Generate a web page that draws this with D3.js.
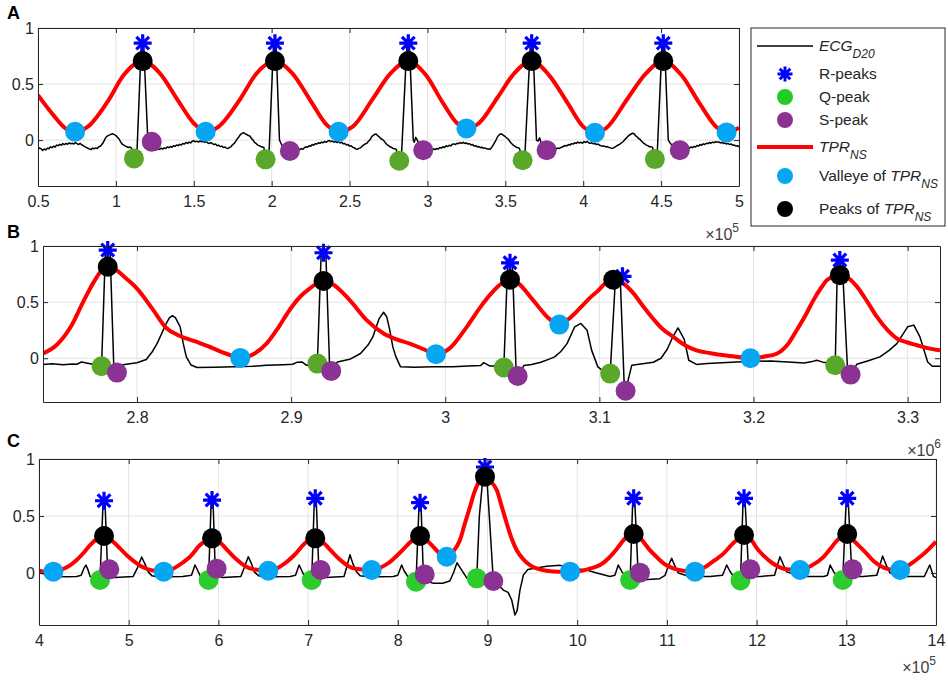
<!DOCTYPE html>
<html>
<head>
<meta charset="utf-8">
<script src="https://cdn.jsdelivr.net/npm/d3@7"></script>
<style>
body { margin: 0; background: #fff; }
text { font-family: "Liberation Sans", Arial, Helvetica, sans-serif; fill: #262626; }
</style>
</head>
<body>
<div id="chart"></div>
<script>
// ---------- data (x in axis units shown on ticks, y in normalised amplitude) ----------
// panel A  (x * 1e5)
var ecgA = [[0.50,-0.083],[0.51,-0.07],[0.52,-0.078],[0.53,-0.092],[0.54,-0.08],[0.55,-0.088],[0.56,-0.072],[0.57,-0.078],[0.58,-0.06],[0.59,-0.068],[0.60,-0.055],[0.61,-0.062],[0.62,-0.045],[0.63,-0.05],[0.64,-0.038],[0.65,-0.046],[0.66,-0.032],[0.67,-0.04],[0.68,-0.03],[0.69,-0.038],[0.70,-0.025],[0.71,-0.034],[0.72,-0.028],[0.73,-0.036],[0.74,-0.022],[0.75,-0.032],[0.76,-0.04],[0.77,-0.03],[0.78,-0.042],[0.79,-0.05],[0.80,-0.058],[0.81,-0.066],[0.82,-0.072],[0.83,-0.08],[0.84,-0.085],[0.85,-0.072],[0.86,-0.078],[0.87,-0.07],[0.88,-0.076],[0.89,-0.06],[0.90,-0.055],[0.91,-0.04],[0.92,-0.02],[0.93,0.01],[0.94,0.03],[0.95,0.04],[0.96,0.046],[0.97,0.052],[0.98,0.056],[0.99,0.048],[1.00,0.04],[1.01,0.025],[1.02,0.01],[1.03,-0.015],[1.04,-0.035],[1.05,-0.045],[1.06,-0.052],[1.07,-0.06],[1.08,-0.066],[1.09,-0.062],[1.10,-0.072],
  [1.116,-0.164],[1.135,-0.12],[1.163,0.86],[1.178,0.86],[1.205,0.0],[1.22,-0.02],[1.235,-0.05],
  [1.24,-0.06],[1.25,-0.08],[1.26,-0.088],[1.27,-0.076],[1.28,-0.084],[1.29,-0.072],[1.30,-0.08],[1.31,-0.07],[1.32,-0.075],[1.33,-0.062],[1.34,-0.068],[1.35,-0.058],[1.36,-0.064],[1.37,-0.05],[1.38,-0.056],[1.39,-0.044],[1.40,-0.05],[1.41,-0.038],[1.42,-0.044],[1.43,-0.03],[1.44,-0.036],[1.45,-0.022],[1.46,-0.03],[1.47,-0.018],[1.48,-0.026],[1.49,-0.01],[1.50,-0.006],[1.51,-0.016],[1.52,-0.01],[1.53,-0.018],[1.54,-0.008],[1.55,-0.016],[1.56,-0.012],[1.57,-0.02],[1.58,-0.014],[1.59,-0.026],[1.60,-0.03],[1.61,-0.022],[1.62,-0.032],[1.63,-0.04],[1.64,-0.036],[1.65,-0.05],[1.66,-0.046],[1.67,-0.058],[1.68,-0.054],[1.69,-0.066],[1.70,-0.062],[1.71,-0.072],[1.72,-0.075],[1.73,-0.066],[1.74,-0.058],[1.75,-0.04],[1.76,-0.03],[1.77,-0.01],[1.78,0.012],[1.79,0.03],[1.80,0.05],[1.81,0.06],[1.82,0.066],[1.83,0.055],[1.84,0.05],[1.85,0.04],[1.86,0.036],[1.87,0.015],[1.88,0.0],[1.89,-0.02],[1.90,-0.03],[1.91,-0.045],[1.92,-0.05],[1.93,-0.058],[1.94,-0.062],[1.95,-0.066],
  [1.961,-0.172],[1.983,-0.12],[2.012,0.86],[2.028,0.86],[2.05,0.0],[2.07,-0.06],[2.09,-0.07],
  [2.117,-0.09],[2.13,-0.085],[2.14,-0.092],[2.15,-0.08],[2.16,-0.088],[2.17,-0.078],[2.18,-0.086],[2.19,-0.076],[2.20,-0.083],[2.21,-0.068],[2.22,-0.06],[2.23,-0.065],[2.24,-0.05],[2.25,-0.055],[2.26,-0.04],[2.27,-0.046],[2.28,-0.032],[2.29,-0.036],[2.30,-0.024],[2.31,-0.03],[2.32,-0.018],[2.33,-0.024],[2.34,-0.012],[2.35,-0.02],[2.36,-0.01],[2.37,-0.004],[2.38,-0.014],[2.39,-0.008],[2.40,-0.02],[2.41,-0.012],[2.42,-0.022],[2.43,-0.015],[2.44,-0.026],[2.45,-0.02],[2.46,-0.034],[2.47,-0.03],[2.48,-0.044],[2.49,-0.04],[2.50,-0.054],[2.51,-0.05],[2.52,-0.064],[2.53,-0.068],[2.54,-0.08],[2.55,-0.083],[2.56,-0.074],[2.57,-0.07],[2.58,-0.055],[2.59,-0.045],[2.60,-0.035],[2.61,-0.03],[2.62,-0.012],[2.63,0.0],[2.64,0.025],[2.65,0.04],[2.66,0.05],[2.67,0.055],[2.68,0.04],[2.69,0.03],[2.70,0.014],[2.71,0.006],[2.72,-0.005],[2.73,-0.025],[2.74,-0.04],[2.75,-0.05],[2.76,-0.06],[2.77,-0.066],[2.78,-0.075],[2.79,-0.078],[2.80,-0.083],
  [2.819,-0.185],[2.834,-0.12],[2.868,0.86],[2.884,0.86],[2.909,0.0],[2.915,-0.02],[2.925,0.024],[2.935,0.0],[2.95,-0.06],
  [2.973,-0.09],[2.98,-0.08],[2.99,-0.088],[3.00,-0.078],[3.01,-0.086],[3.02,-0.08],[3.03,-0.088],[3.04,-0.078],[3.05,-0.085],[3.06,-0.075],[3.07,-0.08],[3.08,-0.066],[3.09,-0.072],[3.10,-0.06],[3.11,-0.066],[3.12,-0.05],[3.13,-0.058],[3.14,-0.046],[3.15,-0.052],[3.16,-0.038],[3.17,-0.034],[3.18,-0.04],[3.19,-0.028],[3.20,-0.032],[3.21,-0.022],[3.22,-0.03],[3.23,-0.02],[3.24,-0.03],[3.25,-0.026],[3.26,-0.036],[3.27,-0.032],[3.28,-0.044],[3.29,-0.04],[3.30,-0.054],[3.31,-0.05],[3.32,-0.062],[3.33,-0.058],[3.34,-0.068],[3.35,-0.064],[3.36,-0.074],[3.37,-0.07],[3.38,-0.078],[3.39,-0.08],[3.40,-0.083],[3.41,-0.07],[3.42,-0.05],[3.43,-0.025],[3.44,0.0],[3.45,0.03],[3.46,0.046],[3.47,0.056],[3.48,0.05],[3.49,0.04],[3.50,0.03],[3.51,0.018],[3.52,0.006],[3.53,-0.015],[3.54,-0.03],[3.55,-0.045],[3.56,-0.055],[3.57,-0.064],[3.58,-0.068],[3.59,-0.072],
  [3.611,-0.18],[3.626,-0.12],[3.661,0.86],[3.677,0.86],[3.70,0.0],[3.71,-0.01],[3.72,0.02],[3.73,-0.03],
  [3.765,-0.09],[3.775,-0.078],[3.785,-0.086],[3.795,-0.076],[3.805,-0.082],[3.815,-0.072],[3.825,-0.08],[3.835,-0.07],[3.845,-0.076],[3.855,-0.068],[3.865,-0.062],[3.875,-0.055],[3.885,-0.048],[3.895,-0.052],[3.905,-0.04],[3.915,-0.045],[3.925,-0.032],[3.935,-0.036],[3.945,-0.024],[3.955,-0.03],[3.965,-0.018],[3.975,-0.026],[3.985,-0.02],[3.995,-0.028],[4.005,-0.014],[4.015,-0.022],[4.025,-0.012],[4.035,-0.024],[4.045,-0.03],[4.055,-0.024],[4.065,-0.034],[4.075,-0.03],[4.085,-0.04],[4.095,-0.036],[4.105,-0.046],[4.115,-0.05],[4.125,-0.056],[4.135,-0.052],[4.145,-0.062],[4.155,-0.058],[4.165,-0.066],[4.175,-0.07],[4.185,-0.074],[4.195,-0.07],[4.205,-0.06],[4.215,-0.052],[4.225,-0.044],[4.235,-0.036],[4.245,-0.026],[4.255,-0.015],[4.265,0.0],[4.275,0.015],[4.285,0.03],[4.295,0.044],[4.305,0.052],[4.315,0.06],[4.325,0.058],[4.335,0.04],[4.345,0.03],[4.355,0.014],[4.365,0.006],[4.375,-0.01],[4.385,-0.025],[4.395,-0.035],[4.405,-0.045],[4.415,-0.05],[4.425,-0.06],[4.435,-0.058],[4.445,-0.066],
  [4.46,-0.17],[4.475,-0.12],[4.506,0.86],[4.522,0.86],[4.546,0.0],[4.56,-0.03],[4.58,-0.06],
  [4.62,-0.09],[4.63,-0.078],[4.64,-0.084],[4.65,-0.074],[4.66,-0.08],[4.67,-0.068],[4.68,-0.074],[4.69,-0.062],[4.70,-0.068],[4.71,-0.058],[4.72,-0.062],[4.73,-0.048],[4.74,-0.054],[4.75,-0.04],[4.76,-0.046],[4.77,-0.034],[4.78,-0.04],[4.79,-0.028],[4.80,-0.032],[4.81,-0.022],[4.82,-0.028],[4.83,-0.018],[4.84,-0.024],[4.85,-0.014],[4.86,-0.02],[4.87,-0.016],[4.88,-0.026],[4.89,-0.02],[4.90,-0.03],[4.91,-0.026],[4.92,-0.036],[4.93,-0.03],[4.94,-0.04],[4.95,-0.036],[4.96,-0.046],[4.97,-0.044],[4.98,-0.054],[4.99,-0.05],[5.0,-0.06]];
var tprA = [[0.5,0.40],[0.6,0.22],[0.68,0.10],[0.738,0.074],[0.82,0.12],[0.95,0.35],[1.05,0.58],[1.172,0.705],[1.28,0.60],[1.4,0.35],[1.5,0.15],[1.576,0.074],[1.66,0.12],[1.8,0.37],[1.9,0.59],[2.021,0.705],[2.13,0.60],[2.25,0.35],[2.35,0.14],[2.43,0.074],[2.52,0.12],[2.65,0.37],[2.76,0.59],[2.877,0.705],[2.99,0.58],[3.1,0.33],[3.19,0.15],[3.25,0.104],[3.33,0.15],[3.45,0.38],[3.56,0.60],[3.669,0.705],[3.78,0.58],[3.9,0.33],[4.0,0.12],[4.075,0.065],[4.15,0.11],[4.28,0.36],[4.4,0.59],[4.514,0.705],[4.63,0.58],[4.75,0.32],[4.86,0.11],[4.92,0.068],[5.0,0.11]];
var rPeaksA = [[1.172,0.865],[2.021,0.865],[2.877,0.865],[3.669,0.865],[4.514,0.865]];
var qPeaksA = [[1.116,-0.164],[1.961,-0.172],[2.819,-0.185],[3.611,-0.18],[4.46,-0.17]];
var sPeaksA = [[1.23,-0.015],[2.117,-0.098],[2.973,-0.09],[3.765,-0.09],[4.62,-0.09]];
var valleysA = [[0.738,0.074],[1.576,0.074],[2.43,0.074],[3.25,0.104],[4.075,0.065],[4.92,0.068]];
var tprPeaksA = [[1.172,0.705],[2.021,0.705],[2.877,0.705],[3.669,0.705],[4.514,0.705]];
var xTicksA = [0.5,1,1.5,2,2.5,3,3.5,4,4.5,5];

// panel B  (x * 1e6)
var ecgB = [[2.739,-0.057],[2.745,-0.05],[2.752,-0.058],[2.758,-0.052],[2.761,-0.054],[2.764,-0.033],[2.768,-0.045],[2.772,-0.056],[2.775,-0.06],
  [2.777,-0.071],[2.7795,0.964],[2.7825,0.964],[2.785,-0.10],[2.787,-0.128],
  [2.79,-0.06],[2.793,-0.054],[2.80,-0.04],[2.806,-0.012],[2.81,0.06],[2.813,0.13],[2.817,0.25],[2.819,0.31],[2.821,0.36],[2.823,0.38],[2.825,0.36],[2.828,0.28],[2.830,0.13],[2.832,0.012],[2.835,-0.06],[2.839,-0.083],[2.85,-0.08],[2.863,-0.077],[2.875,-0.072],[2.884,-0.063],[2.895,-0.058],[2.901,-0.054],[2.904,-0.035],[2.907,-0.033],[2.91,-0.063],[2.914,-0.06],
  [2.917,-0.048],[2.9195,0.94],[2.9225,0.94],[2.925,-0.09],[2.926,-0.113],
  [2.93,-0.033],[2.938,-0.01],[2.945,0.042],[2.95,0.12],[2.953,0.19],[2.957,0.35],[2.96,0.41],[2.962,0.37],[2.964,0.25],[2.966,0.10],[2.968,0.012],[2.971,-0.077],[2.98,-0.08],[2.992,-0.077],[3.005,-0.077],[3.015,-0.07],[3.023,-0.065],[3.025,-0.039],[3.029,-0.07],[3.034,-0.07],
  [3.038,-0.083],[3.0405,0.85],[3.0435,0.85],[3.046,-0.12],[3.047,-0.158],
  [3.051,-0.065],[3.056,-0.055],[3.062,-0.036],[3.067,-0.01],[3.071,0.012],[3.075,0.06],[3.079,0.13],[3.084,0.28],[3.088,0.31],[3.092,0.25],[3.095,0.07],[3.099,-0.077],[3.104,-0.13],
  [3.107,-0.137],[3.1105,0.73],[3.1135,0.73],[3.116,-0.2],[3.117,-0.29],
  [3.12,-0.12],[3.121,-0.063],[3.128,-0.05],[3.135,-0.036],[3.14,0.0],[3.144,0.08],[3.148,0.20],[3.151,0.27],[3.155,0.17],[3.158,-0.018],[3.163,-0.055],[3.17,-0.048],[3.189,-0.033],[3.211,-0.024],[3.225,-0.035],[3.233,-0.042],[3.238,-0.03],[3.241,-0.018],[3.245,-0.035],[3.25,-0.045],
  [3.253,-0.063],[3.2545,0.875],[3.2575,0.875],[3.261,-0.1],[3.263,-0.146],
  [3.267,-0.054],[3.275,-0.02],[3.282,0.012],[3.288,0.07],[3.293,0.13],[3.30,0.28],[3.304,0.295],[3.308,0.19],[3.313,-0.033],[3.316,-0.071],[3.321,-0.071]];
var tprB = [[2.739,0.042],[2.748,0.12],[2.757,0.28],[2.765,0.5],[2.772,0.68],[2.777,0.78],[2.781,0.815],[2.786,0.79],[2.793,0.71],[2.80,0.62],[2.81,0.44],[2.819,0.27],[2.826,0.21],[2.832,0.176],[2.84,0.14],[2.849,0.09],[2.858,0.04],[2.867,0.003],[2.876,0.04],[2.884,0.13],[2.892,0.28],[2.899,0.43],[2.906,0.55],[2.912,0.62],[2.917,0.67],[2.921,0.688],[2.927,0.66],[2.938,0.518],[2.949,0.34],[2.96,0.22],[2.968,0.17],[2.977,0.13],[2.986,0.08],[2.994,0.036],[3.003,0.09],[3.014,0.28],[3.023,0.46],[3.03,0.58],[3.036,0.66],[3.042,0.70],[3.048,0.66],[3.055,0.55],[3.061,0.45],[3.066,0.37],[3.074,0.30],[3.081,0.36],[3.088,0.455],[3.094,0.54],[3.099,0.60],[3.104,0.67],[3.109,0.70],[3.115,0.67],[3.122,0.58],[3.128,0.47],[3.135,0.35],[3.141,0.26],[3.148,0.19],[3.155,0.12],[3.163,0.07],[3.172,0.045],[3.185,0.02],[3.198,0.0],[3.207,0.015],[3.215,0.04],[3.222,0.12],[3.228,0.25],[3.234,0.39],[3.239,0.52],[3.244,0.63],[3.248,0.70],[3.256,0.74],[3.262,0.71],[3.267,0.64],[3.274,0.50],[3.28,0.37],[3.287,0.25],[3.293,0.176],[3.30,0.14],[3.306,0.116],[3.313,0.09],[3.321,0.07]];
var rPeaksB = [[2.781,0.964],[2.921,0.94],[3.042,0.85],[3.115,0.73],[3.256,0.875]];
var qPeaksB = [[2.777,-0.071],[2.917,-0.048],[3.038,-0.083],[3.107,-0.137],[3.253,-0.063]];
var sPeaksB = [[2.787,-0.128],[2.926,-0.113],[3.047,-0.158],[3.117,-0.29],[3.263,-0.146]];
var valleysB = [[2.867,0.003],[2.994,0.036],[3.074,0.30],[3.198,0.0]];
var tprPeaksB = [[2.781,0.815],[2.921,0.688],[3.042,0.70],[3.109,0.70],[3.256,0.74]];
var xTicksB = [2.8,2.9,3,3.1,3.2,3.3];

// panel C  (x * 1e5)
var ecgC = [[4.0,0.003],[4.06,-0.01],[4.12,-0.02],[4.2,-0.03],[4.31,-0.032],[4.42,-0.03],[4.47,-0.02],[4.5,0.04],[4.524,0.07],[4.545,0.03],[4.57,-0.03],[4.62,-0.035],[4.66,-0.04],
  [4.68,-0.061],[4.715,0.634],[4.735,0.634],[4.765,0.02],[4.784,0.032],
  [4.81,-0.03],[4.847,-0.04],[4.95,-0.035],[5.05,-0.03],[5.1,0.05],[5.145,0.14],[5.18,0.08],[5.218,0.01],[5.26,-0.025],[5.3,-0.03],[5.45,-0.032],[5.6,-0.03],[5.7,-0.02],[5.739,0.07],[5.77,0.02],[5.8,-0.03],[5.86,-0.04],
  [5.89,-0.061],[5.92,0.64],[5.94,0.64],[5.965,0.02],[5.98,0.038],
  [6.01,-0.03],[6.05,-0.04],[6.15,-0.035],[6.25,-0.03],[6.29,0.05],[6.333,0.143],[6.37,0.08],[6.4,0.01],[6.45,-0.025],[6.5,-0.03],[6.65,-0.032],[6.8,-0.03],[6.86,-0.02],[6.9,0.07],[6.93,0.02],[6.96,-0.03],[7.01,-0.04],
  [7.04,-0.061],[7.07,0.655],[7.09,0.655],[7.12,0.02],[7.14,0.026],
  [7.17,-0.03],[7.2,-0.04],[7.3,-0.035],[7.4,-0.03],[7.43,0.05],[7.467,0.16],[7.5,0.08],[7.54,0.01],[7.58,-0.025],[7.65,-0.03],[7.8,-0.032],[7.95,-0.03],[8.0,-0.02],[8.043,0.07],[8.07,0.02],[8.11,-0.03],[8.17,-0.045],
  [8.203,-0.076],[8.238,0.617],[8.258,0.617],[8.285,-0.02],[8.30,-0.012],
  [8.35,-0.08],[8.40,-0.09],[8.5,-0.09],[8.58,-0.07],[8.62,0.0],[8.66,0.09],[8.7,0.04],[8.77,-0.045],[8.83,-0.04],
  [8.88,-0.047],[8.909,0.5],[8.96,0.93],[8.985,0.93],[9.028,0.4],[9.065,-0.07],
  [9.12,-0.1],[9.176,-0.15],[9.23,-0.17],[9.27,-0.237],[9.306,-0.368],[9.33,-0.33],[9.362,-0.15],[9.4,-0.018],[9.45,0.03],[9.51,0.04],[9.66,0.06],[9.81,0.067],[9.95,0.04],[10.106,0.026],[10.217,0.0],[10.366,-0.03],[10.42,-0.02],[10.458,0.07],[10.5,0.01],[10.54,-0.03],[10.57,-0.04],
  [10.59,-0.061],[10.62,0.655],[10.64,0.655],[10.68,-0.01],[10.70,0.003],
  [10.74,-0.06],[10.92,-0.05],[10.98,-0.02],[11.02,0.07],[11.053,0.13],[11.09,0.06],[11.127,0.0],[11.25,-0.03],[11.48,-0.03],[11.62,-0.02],[11.667,0.07],[11.7,0.02],[11.74,-0.03],[11.79,-0.04],
  [11.82,-0.066],[11.85,0.655],[11.87,0.655],[11.91,0.02],[11.93,0.032],
  [11.97,-0.03],[12.04,-0.03],[12.2,-0.02],[12.26,0.143],[12.3,0.07],[12.335,0.01],[12.5,-0.03],[12.75,-0.03],[12.79,-0.02],[12.82,0.07],[12.86,0.01],[12.9,-0.03],[12.93,-0.04],
  [12.96,-0.061],[13.0,0.655],[13.02,0.655],[13.06,0.02],[13.07,0.032],
  [13.12,-0.03],[13.19,-0.03],[13.34,-0.02],[13.405,0.15],[13.45,0.06],[13.487,0.0],[13.6,-0.03],[13.87,-0.03],[13.9,0.02],[13.93,0.07],[13.96,0.0],[13.97,-0.03],[14.0,-0.04]];
var tprC = [[4.0,0.02],[4.08,0.012],[4.16,0.012],[4.25,0.03],[4.35,0.07],[4.42,0.114],[4.5,0.18],[4.57,0.245],[4.65,0.30],[4.725,0.325],[4.8,0.29],[4.903,0.216],[5.0,0.14],[5.09,0.085],[5.16,0.05],[5.237,0.027],[5.39,0.012],[5.5,0.04],[5.6,0.09],[5.68,0.14],[5.795,0.245],[5.87,0.29],[5.929,0.304],[6.0,0.28],[6.1,0.2],[6.2,0.12],[6.3,0.06],[6.4,0.03],[6.556,0.02],[6.65,0.04],[6.75,0.09],[6.85,0.16],[6.95,0.25],[7.02,0.295],[7.08,0.304],[7.15,0.28],[7.25,0.2],[7.35,0.12],[7.45,0.06],[7.55,0.035],[7.709,0.026],[7.8,0.045],[7.9,0.09],[8.0,0.16],[8.1,0.24],[8.18,0.30],[8.248,0.325],[8.32,0.29],[8.396,0.23],[8.47,0.17],[8.545,0.143],[8.62,0.19],[8.693,0.29],[8.75,0.44],[8.805,0.58],[8.85,0.70],[8.897,0.79],[8.972,0.845],[9.04,0.80],[9.103,0.728],[9.16,0.58],[9.214,0.436],[9.27,0.30],[9.326,0.20],[9.4,0.12],[9.474,0.07],[9.548,0.04],[9.66,0.02],[9.8,0.012],[9.92,0.012],[10.05,0.02],[10.15,0.04],[10.254,0.07],[10.35,0.13],[10.45,0.22],[10.53,0.30],[10.63,0.342],[10.72,0.29],[10.8,0.21],[10.886,0.14],[10.97,0.08],[11.07,0.04],[11.18,0.02],[11.313,0.012],[11.42,0.05],[11.53,0.11],[11.63,0.17],[11.7,0.23],[11.778,0.29],[11.86,0.333],[11.95,0.28],[12.0,0.22],[12.075,0.155],[12.17,0.09],[12.26,0.05],[12.36,0.03],[12.484,0.026],[12.6,0.06],[12.744,0.14],[12.82,0.21],[12.89,0.28],[13.01,0.342],[13.1,0.27],[13.227,0.17],[13.31,0.1],[13.41,0.05],[13.5,0.03],[13.6,0.026],[13.7,0.07],[13.82,0.14],[13.92,0.21],[14.0,0.275]];
var rPeaksC = [[4.725,0.634],[5.929,0.64],[7.08,0.655],[8.248,0.617],[8.972,0.93],[10.63,0.655],[11.86,0.655],[13.01,0.655]];
var qPeaksC = [[4.68,-0.061],[5.89,-0.061],[7.04,-0.061],[8.203,-0.076],[8.88,-0.047],[10.59,-0.061],[11.82,-0.066],[12.96,-0.061]];
var sPeaksC = [[4.784,0.032],[5.98,0.038],[7.14,0.026],[8.30,-0.012],[9.065,-0.07],[10.70,0.003],[11.93,0.032],[13.07,0.032]];
var valleysC = [[4.16,0.012],[5.39,0.012],[6.556,0.02],[7.709,0.026],[8.545,0.143],[9.92,0.012],[11.313,0.012],[12.484,0.026],[13.6,0.026]];
var tprPeaksC = [[4.725,0.325],[5.929,0.304],[7.08,0.304],[8.248,0.325],[8.972,0.845],[10.63,0.342],[11.86,0.333],[13.01,0.342]];
var xTicksC = [4,5,6,7,8,9,10,11,12,13,14];

var yTicks = [0, 0.5, 1];

// ---------- drawing ----------
var svg = d3.select("#chart").append("svg")
    .attr("width", 948).attr("height", 680)

var colBlue = "#0000ff", colRed = "#ff0000", colValley = "#06a6f2", colBlack = "#000000"

// MATLAB style asterisk
function asterisk(r){
  var a = r * 0.7071
  return "M" + (-r) + ",0L" + r + ",0M0," + (-r) + "L0," + r +
         "M" + (-a) + "," + (-a) + "L" + a + "," + a + "M" + (-a) + "," + a + "L" + a + "," + (-a)
}

function drawPanel(p){
  var x = d3.scaleLinear().domain(p.xDomain).range([p.left, p.right])
  var y = d3.scaleLinear().domain(p.yDomain).range([p.bottom, p.top])
  var g = svg.append("g")

  g.append("clipPath").attr("id", "clip" + p.id)
   .append("rect").attr("x", p.left).attr("y", p.top)
   .attr("width", p.right - p.left).attr("height", p.bottom - p.top)

  // grid
  g.append("g").selectAll("line").data(p.xTicks).enter().append("line")
   .attr("x1", d => x(d)).attr("x2", d => x(d))
   .attr("y1", p.top).attr("y2", p.bottom)
   .attr("stroke", "#e2e2e2").attr("stroke-width", 1)
  g.append("g").selectAll("line").data(yTicks).enter().append("line")
   .attr("x1", p.left).attr("x2", p.right)
   .attr("y1", d => y(d)).attr("y2", d => y(d))
   .attr("stroke", "#e2e2e2").attr("stroke-width", 1)

  var line = d3.line().x(d => x(d[0])).y(d => y(d[1]))
  var smooth = d3.line().x(d => x(d[0])).y(d => y(d[1])).curve(d3.curveMonotoneX)

  var plot = g.append("g").attr("clip-path", "url(#clip" + p.id + ")")
  plot.append("path").datum(p.ecg).attr("d", line)
      .attr("fill", "none").attr("stroke", "#000").attr("stroke-width", 1.5)
      .attr("stroke-linejoin", "round")

  g.append("g").selectAll("path").data(p.r).enter().append("path")
   .attr("d", asterisk(9))
   .attr("transform", d => "translate(" + x(d[0]) + "," + y(d[1]) + ")")
   .attr("stroke", colBlue).attr("stroke-width", 3.2).attr("fill", "none")

  function dots(data, color){
    g.append("g").selectAll("circle").data(data).enter().append("circle")
     .attr("cx", d => x(d[0])).attr("cy", d => y(d[1])).attr("r", 10)
     .attr("fill", color)
  }
  dots(p.q, p.green)
  dots(p.s, p.purple)

  plot.append("path").datum(p.tpr).attr("d", smooth)
      .attr("fill", "none").attr("stroke", colRed).attr("stroke-width", 4)

  dots(p.valleys, colValley)
  dots(p.peaks, colBlack)

  // axes (ticks inside, MATLAB box)
  var ax = g.append("g").attr("color", "#262626")
  ax.append("g").attr("transform", "translate(0," + p.bottom + ")")
    .call(d3.axisBottom(x).tickValues(p.xTicks).tickFormat(d => String(d))
          .tickSizeInner(-5).tickSizeOuter(0).tickPadding(10))
  ax.append("g").attr("transform", "translate(0," + p.top + ")")
    .call(d3.axisTop(x).tickValues(p.xTicks).tickFormat("")
          .tickSizeInner(-5).tickSizeOuter(0))
  ax.append("g").attr("transform", "translate(" + p.left + ",0)")
    .call(d3.axisLeft(y).tickValues(yTicks).tickFormat(d => String(d))
          .tickSizeInner(-5).tickSizeOuter(0).tickPadding(4))
  ax.append("g").attr("transform", "translate(" + p.right + ",0)")
    .call(d3.axisRight(y).tickValues(yTicks).tickFormat("")
          .tickSizeInner(-5).tickSizeOuter(0))
  ax.selectAll("text").attr("font-size", 16)
    .style("font-family", '"Liberation Sans", Arial, sans-serif').attr("fill", "#262626")
  ax.selectAll(".domain").attr("stroke-width", 1)

  // panel letter
  svg.append("text").attr("x", 7).attr("y", p.labelY).text(p.id)
     .attr("font-size", 18).attr("font-weight", "bold").style("fill", "#000")

  // exponent
  var ex = svg.append("text").attr("x", p.expX).attr("y", p.expY)
     .attr("font-size", 16).attr("text-anchor", "end").style("fill", "#404040")
  ex.append("tspan").text("\u00d710")
  ex.append("tspan").text(p.exp).attr("font-size", 12).attr("dy", -8)
}

drawPanel({id: "A", left: 38, right: 739, top: 28, bottom: 186,
  xDomain: [0.5, 5], yDomain: [-0.41, 1], xTicks: xTicksA,
  ecg: ecgA, tpr: tprA, r: rPeaksA, q: qPeaksA, s: sPeaksA, valleys: valleysA, peaks: tprPeaksA,
  green: "#5aa829", purple: "#8a3394", labelY: 19, exp: "5", expX: 739, expY: 240})
drawPanel({id: "B", left: 43, right: 940, top: 246, bottom: 402,
  xDomain: [2.739, 3.321], yDomain: [-0.39, 1], xTicks: xTicksB,
  ecg: ecgB, tpr: tprB, r: rPeaksB, q: qPeaksB, s: sPeaksB, valleys: valleysB, peaks: tprPeaksB,
  green: "#5aa829", purple: "#8a3394", labelY: 238, exp: "6", expX: 941, expY: 456})
drawPanel({id: "C", left: 39, right: 936, top: 459, bottom: 625,
  xDomain: [4, 14], yDomain: [-0.456, 1], xTicks: xTicksC,
  ecg: ecgC, tpr: tprC, r: rPeaksC, q: qPeaksC, s: sPeaksC, valleys: valleysC, peaks: tprPeaksC,
  green: "#2ccc2c", purple: "#8a3394", labelY: 447, exp: "5", expX: 936, expY: 673})

// ---------- legend ----------
var lg = svg.append("g")
lg.append("rect").attr("x", 751).attr("y", 28).attr("width", 194).attr("height", 198)
  .attr("fill", "#fff").attr("stroke", "#262626").attr("stroke-width", 1)

var legendItems = [
  {kind: "line", color: "#000", w: 1.5, y: 46, text: "ECG", sub: "D20", italic: true},
  {kind: "star", color: colBlue, y: 74, text: "R-peaks"},
  {kind: "dot", color: "#22cc22", y: 97, text: "Q-peak"},
  {kind: "dot", color: "#8a3394", y: 120, text: "S-peak"},
  {kind: "line", color: colRed, w: 4, y: 147, text: "TPR", sub: "NS", italic: true},
  {kind: "dot", color: colValley, y: 176, text: "Valleye of ", em: "TPR", sub: "NS"},
  {kind: "dot", color: colBlack, y: 209, text: "Peaks of ", em: "TPR", sub: "NS"}
]
legendItems.forEach(function(it){
  if (it.kind == "line") {
    lg.append("line").attr("x1", 757).attr("x2", 813).attr("y1", it.y).attr("y2", it.y)
      .attr("stroke", it.color).attr("stroke-width", it.w)
  } else if (it.kind == "star") {
    lg.append("path").attr("d", asterisk(7.5)).attr("transform", "translate(785," + it.y + ")")
      .attr("stroke", it.color).attr("stroke-width", 3).attr("fill", "none")
  } else {
    lg.append("circle").attr("cx", 785).attr("cy", it.y).attr("r", 8).attr("fill", it.color)
  }
  var t = lg.append("text").attr("x", 819).attr("y", it.y + 5).attr("font-size", 15.5)
  var main = t.append("tspan").text(it.text)
  if (it.italic) main.attr("font-style", "italic")
  if (it.em) t.append("tspan").text(it.em).attr("font-style", "italic")
  if (it.sub) t.append("tspan").text(it.sub).attr("font-style", "italic")
     .attr("font-size", 12).attr("dy", 7)
})
</script>
</body>
</html>
